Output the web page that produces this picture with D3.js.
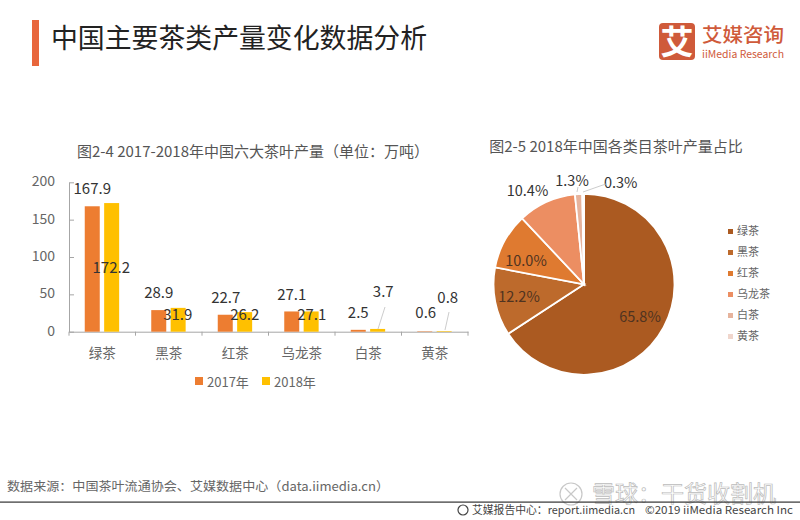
<!DOCTYPE html>
<html><head><meta charset="utf-8">
<script src="https://cdn.jsdelivr.net/npm/d3@7"></script>
<style>
html,body{margin:0;padding:0;background:#fff}
svg{display:block}
text{font-family:"Noto Sans CJK SC","Noto Sans",sans-serif}
</style></head><body>
<svg id="c" width="800" height="520"></svg>
<script>
const categories = ["绿茶","黑茶","红茶","乌龙茶","白茶","黄茶"];
const years = ["2017年","2018年"];
const values2017 = [167.9,28.9,22.7,27.1,2.5,0.6];
const values2018 = [172.2,31.9,26.2,27.1,3.7,0.8];
const yTicks = [0,50,100,150,200];
const pieShares = [65.8,12.2,10.0,10.4,1.3,0.3];
const pieColors = ["#ab5a21","#bd6a2c","#df7a30","#ec8e62","#e6b39c","#f0d6cc"];
const barColors = ["#ed7d31","#ffc000"];

const svg = d3.select("#c");
const txt = (x,y,s,size,fill,anchor="start",weight=400,len=null)=>{
  const t = svg.append("text").attr("x",x).attr("y",y).attr("dy","0.35em")
    .attr("font-size",size).attr("fill",fill).attr("text-anchor",anchor).attr("font-weight",weight).text(s);
  if(len){t.attr("textLength",len).attr("lengthAdjust","spacingAndGlyphs");}
  return t;
};

// header
svg.append("rect").attr("x",32).attr("y",20).attr("width",7).attr("height",46).attr("fill","#e8663c");
txt(51,39,"中国主要茶类产量变化数据分析",27,"#222","start",400,376);
svg.append("rect").attr("x",659).attr("y",23).attr("width",36).attr("height",37).attr("rx",4).attr("fill","#cf5a3a");
txt(677,42,"艾",33,"#fff","middle",700);
txt(702,35,"艾媒咨询",19.5,"#cf5a3a","start",500,82);
txt(702,54,"iiMedia Research",10,"#cf5a3a","start",400,82);

// bar chart
txt(253,152,"图2-4 2017-2018年中国六大茶叶产量（单位：万吨）",15,"#555","middle");
const x0 = d3.scaleBand().domain(categories).range([69,468]);
const y = d3.scaleLinear().domain([0,200]).range([331.7,182.3]);
const xAxis = svg.append("g").attr("transform","translate(0,331.7)").call(d3.axisBottom(x0).tickSize(0).tickFormat(""));
const yAxis = svg.append("g").attr("transform","translate(69,0)").call(d3.axisLeft(y).tickValues(yTicks).tickSize(0).tickPadding(14));
xAxis.selectAll(".tick").remove();
categories.forEach(c=>xAxis.append("line").attr("x1",x0(c)).attr("x2",x0(c)).attr("y1",0).attr("y2",4).attr("stroke","#a6a6a6"));
xAxis.append("line").attr("x1",468).attr("x2",468).attr("y1",0).attr("y2",4).attr("stroke","#a6a6a6");
xAxis.select(".domain").attr("stroke","#a6a6a6");
yAxis.select(".domain").attr("stroke","#a6a6a6");
yAxis.selectAll(".tick").append("line").attr("x1",0).attr("x2",5).attr("stroke","#a6a6a6");
yAxis.selectAll("text").attr("font-size",14).attr("fill","#666").attr("dy","0.25em");
categories.forEach(c=>txt(x0(c)+x0.bandwidth()/2,353,c,13.5,"#666","middle"));

const barW = 15, gapOff = [-17.5,1.9];
[values2017,values2018].forEach((vals,k)=>{
  svg.append("g").selectAll("rect").data(vals).join("rect")
    .attr("x",(d,i)=>x0(categories[i])+x0.bandwidth()/2+gapOff[k])
    .attr("width",barW)
    .attr("y",d=>y(d)).attr("height",d=>y(0)-y(d))
    .attr("fill",barColors[k]);
});

// data-label placement offsets, from each bar's band centre and from the axis
const labelX2017 = [-10,-10,-9.5,-10,-10,-9];
const labelX2018 = [9,9,9.5,10,15,13];
const labelY2017 = [189,293,298,295,313,313];
const labelY2018 = [268,315,315,315,292,298];
values2017.forEach((v,i)=>txt(x0(categories[i])+x0.bandwidth()/2+labelX2017[i],labelY2017[i],v.toFixed(1),15,"#333","middle"));
values2018.forEach((v,i)=>txt(x0(categories[i])+x0.bandwidth()/2+labelX2018[i],labelY2018[i],v.toFixed(1),15,"#333","middle"));
[[4,378,329,385,307],[5,445,330,449,312]].forEach(a=>svg.append("line").attr("x1",a[1]).attr("y1",a[2]).attr("x2",a[3]).attr("y2",a[4]).attr("stroke","#bfbfbf").attr("stroke-width",0.8));

// bar legend
years.forEach((s,i)=>{
  const lx = [195,262][i];
  svg.append("rect").attr("x",lx).attr("y",377).attr("width",8).attr("height",8).attr("fill",barColors[i]);
  txt(lx+12,382,s,13,"#666");
});

// pie
txt(616,147,"图2-5 2018年中国各类目茶叶产量占比",15,"#555","middle");
const pie = d3.pie().sort(null).value(d=>d)(pieShares);
const arc = d3.arc().innerRadius(0).outerRadius(90.5);
const pg = svg.append("g").attr("transform","translate(584,284.3)");
pg.selectAll("path").data(pie).join("path").attr("d",arc)
  .attr("fill",(d,i)=>pieColors[i]).attr("stroke","#fff").attr("stroke-width",1.8);
const pieLabelPos = [[640,317],[519,297],[526,261],[527.5,191],[572,181],[620.7,183]];
const pieLabelFill = ["#4f3320","#4f3320","#4f3320","#333","#333","#333"];
pieShares.forEach((v,i)=>txt(pieLabelPos[i][0],pieLabelPos[i][1],v.toFixed(1)+"%",14.5,pieLabelFill[i],"middle"));
svg.append("path").attr("d","M583,192 L600,186 L606,184").attr("fill","none").attr("stroke","#bfbfbf").attr("stroke-width",0.8);
svg.append("line").attr("x1",577).attr("y1",192).attr("x2",578).attr("y2",187).attr("stroke","#bfbfbf").attr("stroke-width",0.8);
categories.forEach((c,i)=>{
  const ly = 231.5+i*21;
  svg.append("rect").attr("x",728).attr("y",ly-2.5).attr("width",5).attr("height",5).attr("fill",pieColors[i]);
  txt(737,ly,c,11,"#666");
});

// watermark
svg.append("circle").attr("cx",571).attr("cy",494).attr("r",11).attr("fill","none").attr("stroke","#c8c8c8").attr("stroke-width",1.2);
svg.append("path").attr("d","M565,488 L577,500 M577,488 L565,500").attr("fill","none").attr("stroke","#c8c8c8").attr("stroke-width",1.2);
txt(592,494,"雪球：干货收割机",22.5,"#fff","start",400,184).attr("stroke","#bbb").attr("stroke-width",0.7);

// footer
txt(7,487,"数据来源：中国茶叶流通协会、艾媒数据中心（data.iimedia.cn）",12.5,"#666","start",400,382);
svg.append("rect").attr("x",0).attr("y",501.5).attr("width",800).attr("height",1.2).attr("fill","#333");
svg.append("circle").attr("cx",463).attr("cy",510).attr("r",5).attr("fill","none").attr("stroke","#444").attr("stroke-width",1.2);
txt(472,510,"艾媒报告中心：report.iimedia.cn",11,"#444","start",400,163);
txt(645,510,"©2019  iiMedia Research  Inc",11,"#444","start",400,148);
</script>
</body></html>
